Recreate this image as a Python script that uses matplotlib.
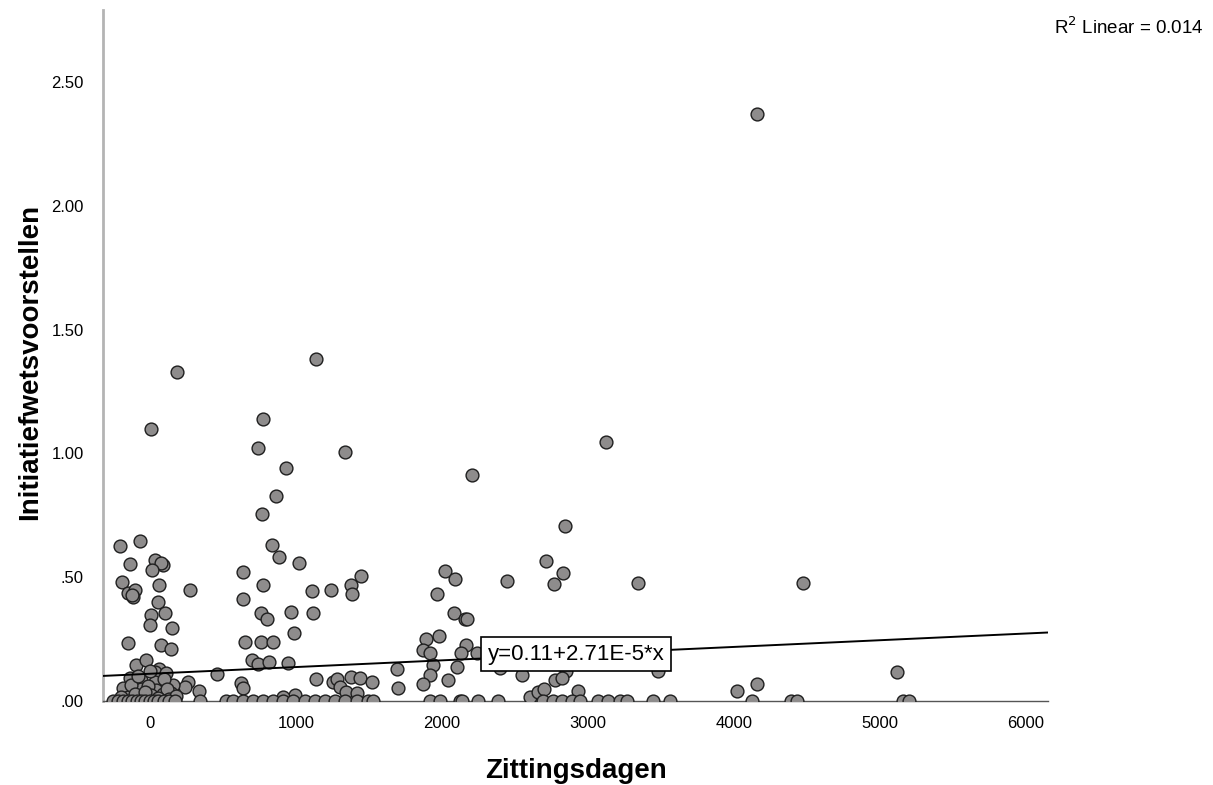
import numpy as np
import matplotlib
matplotlib.use("Agg")
import matplotlib.pyplot as plt
from matplotlib.ticker import FuncFormatter

plt.rcParams["font.family"] = ["Liberation Sans", "DejaVu Sans"]

# Zittingsdagen (x) en Initiatiefwetsvoorstellen (y), afgelezen uit de figuur
# punten boven de nul
zitting = [
    # cluster rond 0
    187, 7, -201, -64, -137, 34, 91, 80, 18, -187, 64, -149, -103, -114, -122, 279,
    57, 12, 103, 0, 155, -149, 80, 149,
    -96, -23, 64, -137, 34, 114, 460, 262, 240, 160, -57, -183, -57, 34, 46, 149, 338,
    -149, -46, -125, 0, -80, 100, -10, 90, 120, -100, 10, 130, 180, -200, -30, 60,
    # cluster 600-1600
    1137, 776, 742, 1336, 932, 868, 769, 840, 886, 1023, 639, 776, 1114, 1240, 1377,
    1388, 1450, 639, 765, 806, 966, 1118, 986, 651, 765, 845, 697, 738, 815, 947,
    1137, 1255, 1279, 1301, 1377, 1438, 1525, 1347, 1416, 1690, 1701, 628, 639, 993, 913,
    # cluster 1800-3000
    2210, 3123, 2842, 2025, 2089, 1968, 2447, 2714, 2829, 2769, 2082, 2160, 2170, 1982,
    1895, 1872, 1918, 2169, 2128, 2238, 1940, 2101, 1918, 1872, 2043, 2397, 2546, 2774,
    2603, 2660, 2699, 2850, 2820, 2935,
    # rechts
    4158, 3344, 4470, 3477, 4018, 4160, 5119,
]
voorstellen = [
    1.328, 1.100, 0.625, 0.645, 0.555, 0.571, 0.548, 0.556, 0.528, 0.481, 0.468, 0.437,
    0.448, 0.421, 0.430, 0.448, 0.400, 0.347, 0.354, 0.306, 0.293, 0.233, 0.226, 0.212,
    0.145, 0.165, 0.128, 0.092, 0.118, 0.112, 0.108, 0.078, 0.055, 0.065, 0.085, 0.051,
    0.047, 0.078, 0.044, 0.031, 0.042, 0.017, 0.017, 0.065, 0.120, 0.100, 0.090, 0.060,
    0.030, 0.050, 0.030, 0.025, 0.010, 0.020, 0.015, 0.035, 0.012,
    1.382, 1.137, 1.023, 1.005, 0.942, 0.828, 0.754, 0.629, 0.582, 0.558, 0.521, 0.468,
    0.445, 0.450, 0.468, 0.434, 0.504, 0.410, 0.354, 0.331, 0.360, 0.356, 0.275, 0.239,
    0.239, 0.239, 0.165, 0.149, 0.158, 0.152, 0.088, 0.078, 0.088, 0.055, 0.098, 0.092,
    0.078, 0.038, 0.031, 0.130, 0.051, 0.071, 0.051, 0.024, 0.017,
    0.911, 1.048, 0.707, 0.524, 0.492, 0.434, 0.485, 0.565, 0.519, 0.471, 0.354, 0.331,
    0.331, 0.263, 0.251, 0.208, 0.192, 0.226, 0.192, 0.192, 0.145, 0.138, 0.105, 0.069,
    0.085, 0.132, 0.105, 0.085, 0.017, 0.037, 0.047, 0.120, 0.092, 0.042,
    2.370, 0.475, 0.475, 0.122, 0.042, 0.069, 0.118,
]
# punten op nul
zitting_nul = [
    -250, -215, -180, -150, -120, -90, -60, -30, 0, 30, 60, 95, 130, 175, 345, 520, 570,
    637, 705, 774, 842, 911, 979, 1062, 1130, 1199, 1267, 1336, 1418, 1493, 1530,
    1918, 1986, 2123, 2135, 2249, 2386, 2694, 2763, 2820, 2888, 2945, 3071, 3139, 3219,
    3265, 3447, 3562, 4121, 4388, 4429, 5155, 5201,
]

# regressielijn volgens het label
intercept = 0.11
slope = 2.71e-5
r2 = 0.014

x_all = zitting + zitting_nul
y_all = voorstellen + [0.0] * len(zitting_nul)

fig = plt.figure(figsize=(12.13, 7.85), dpi=100)
ax = fig.add_axes([0.0849, 0.107, 0.779, 0.880])

ax.scatter(x_all, y_all, s=85, facecolor="#8e8c8c", edgecolor="#1e1e1e",
           linewidth=1.0, zorder=3)

xmin, xmax = -320, 6150
ax.set_xlim(xmin, xmax)
ax.set_ylim(0, 2.79)

xl = np.array([xmin, xmax])
ax.plot(xl, intercept + slope * xl, color="black", lw=1.4, zorder=4)

lx = 2920
ax.text(lx, intercept + slope * lx, "y=0.11+2.71E-5*x", fontsize=16,
        ha="center", va="center", zorder=5,
        bbox=dict(boxstyle="square,pad=0.3", facecolor="white", edgecolor="black", lw=1.2))

ax.set_xticks([0, 1000, 2000, 3000, 4000, 5000, 6000])
ax.set_yticks([0, 0.5, 1.0, 1.5, 2.0, 2.5])
ax.yaxis.set_major_formatter(FuncFormatter(lambda v, p: f"{v:.2f}".lstrip("0") if v < 1 else f"{v:.2f}"))
ax.tick_params(axis="both", length=0, labelsize=12)
ax.tick_params(axis="x", pad=11)
ax.tick_params(axis="y", pad=14)

for s in ["top", "right"]:
    ax.spines[s].set_visible(False)
ax.spines["left"].set_color("#b4b4b4")
ax.spines["left"].set_linewidth(2)
ax.spines["bottom"].set_color("#555555")
ax.spines["bottom"].set_linewidth(1)

fig.text(0.025, 0.539, "Initiatiefwetsvoorstellen", rotation=90, fontsize=20,
         fontweight="bold", ha="center", va="center")
fig.text(0.475, 0.018, "Zittingsdagen", fontsize=20, fontweight="bold",
         ha="center", va="center")
fig.text(0.992, 0.965, f"R$^2$ Linear = {r2}", fontsize=13.5, ha="right", va="center")

fig.savefig("out.png", dpi=100)
